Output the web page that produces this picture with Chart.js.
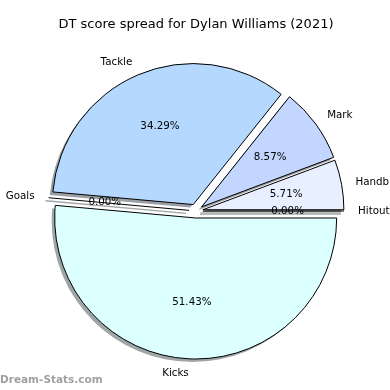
<!DOCTYPE html>
<html>
<head>
<meta charset="utf-8">
<title>DT score spread</title>
<script src="https://cdn.jsdelivr.net/npm/chart.js@4.4.0/dist/chart.umd.min.js"></script>
<style>
  html, body { margin: 0; padding: 0; background: #fff; }
  #wrap { width: 390px; height: 390px; }
</style>
</head>
<body>
<div id="wrap"><canvas id="pie_chart"></canvas></div>
<script>
"use strict";

/*-- data --*/
var categories = ["Kicks", "Goals", "Tackle", "Mark", "Handb", "Hitout"];
var dtPoints = [18, 0, 12, 3, 2, 0];
var chartTitle = "DT score spread for Dylan Williams (2021)";
var watermark = "Dream-Stats.com";

/*-- styles --*/
var sliceColors = ["#dcffff", "#dcffff", "#b5d8ff", "#c3d6ff", "#e8f0ff", "#e8f0ff"];
var explode = 7;       // px, matplotlib explode 0.05
var shadowShift = 3;   // px
var FONT = "'DejaVu Sans', sans-serif";

function shadeOf(hex) {
  var r = parseInt(hex.substr(1, 2), 16), g = parseInt(hex.substr(3, 2), 16), b = parseInt(hex.substr(5, 2), 16);
  return "rgba(" + Math.round(r * 0.3) + "," + Math.round(g * 0.3) + "," + Math.round(b * 0.3) + ",0.5)";
}

var total = dtPoints.reduce(function (a, b) { return a + b; }, 0);

/*-- exploded wedges, shadows, labels --*/
var pieDecor = {
  id: 'pieDecor',
  beforeDatasetDraw: function (chart, args) {
    var ctx = chart.ctx;
    var arcs = args.meta.data;

    arcs.forEach(function (arc, i) {
      var mid = (arc.startAngle + arc.endAngle) / 2;
      ctx.save();
      ctx.translate(Math.cos(mid) * explode - shadowShift, Math.sin(mid) * explode + shadowShift);
      ctx.fillStyle = shadeOf(sliceColors[i]);
      ctx.strokeStyle = shadeOf(sliceColors[i]);
      ctx.beginPath();
      ctx.moveTo(arc.x, arc.y);
      ctx.arc(arc.x, arc.y, arc.outerRadius, arc.startAngle, arc.endAngle);
      ctx.closePath();
      if (arc.endAngle > arc.startAngle) {
        ctx.fill();
      } else {
        ctx.lineWidth = 1.5;
        ctx.stroke();
      }
      ctx.restore();
    });

    arcs.forEach(function (arc, i) {
      var mid = (arc.startAngle + arc.endAngle) / 2;
      ctx.save();
      ctx.translate(Math.cos(mid) * explode, Math.sin(mid) * explode);
      if (arc.endAngle > arc.startAngle) {
        arc.draw(ctx);
      } else {
        ctx.strokeStyle = "#000";
        ctx.lineWidth = 1;
        ctx.beginPath();
        ctx.moveTo(arc.x, arc.y);
        ctx.lineTo(arc.x + Math.cos(mid) * arc.outerRadius, arc.y + Math.sin(mid) * arc.outerRadius);
        ctx.stroke();
      }
      ctx.restore();
    });
    return false;
  },
  afterDatasetsDraw: function (chart) {
    var ctx = chart.ctx;
    var arcs = chart.getDatasetMeta(0).data;
    ctx.save();
    ctx.fillStyle = "#000";
    ctx.font = "10.3px " + FONT;
    ctx.textBaseline = "middle";
    arcs.forEach(function (arc, i) {
      var mid = (arc.startAngle + arc.endAngle) / 2;
      var c = Math.cos(mid), s = Math.sin(mid);
      var cx = arc.x + c * explode, cy = arc.y + s * explode;
      var R = arc.outerRadius;
      ctx.textAlign = c > 0 ? "left" : "right";
      ctx.fillText(categories[i], cx + c * R * 1.1, cy + s * R * 1.1);
      ctx.textAlign = "center";
      var pct = (dtPoints[i] / total * 100).toFixed(2) + "%";
      ctx.fillText(pct, cx + c * R * 0.6, cy + s * R * 0.6);
    });
    ctx.restore();
  },
  afterDraw: function (chart) {
    var ctx = chart.ctx;
    ctx.save();
    ctx.fillStyle = "rgba(150,150,150,0.9)";
    ctx.font = "bold 10.5px " + FONT;
    ctx.textAlign = "left";
    ctx.textBaseline = "middle";
    ctx.fillText(watermark, 0, 380);
    ctx.restore();
  }
};

new Chart(document.getElementById("pie_chart").getContext("2d"), {
  type: 'pie',
  data: {
    labels: categories,
    datasets: [{
      data: dtPoints,
      backgroundColor: sliceColors,
      borderColor: "#000",
      borderWidth: 1
    }]
  },
  options: {
    responsive: true,
    maintainAspectRatio: false,
    animation: false,
    rotation: 90,
    radius: 141,
    layout: { padding: { top: 0, bottom: 10.6, left: 2, right: 0 } },
    plugins: {
      legend: { display: false },
      tooltip: { enabled: false },
      title: {
        display: true,
        text: chartTitle,
        color: "#000",
        font: { family: FONT, size: 13, weight: 'normal' },
        padding: { top: 17, bottom: 10 }
      }
    }
  },
  plugins: [pieDecor]
});
</script>
</body>
</html>
